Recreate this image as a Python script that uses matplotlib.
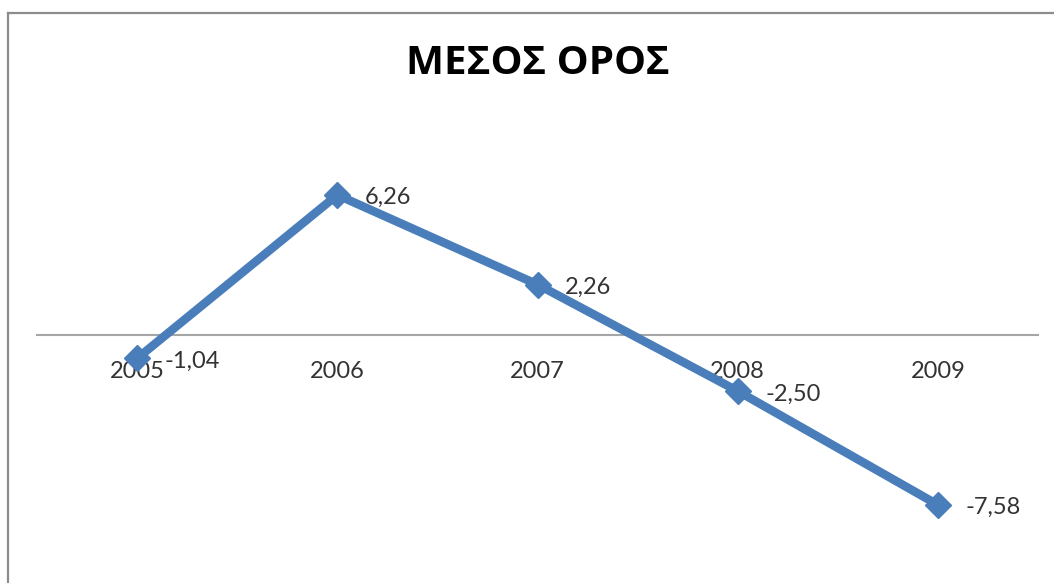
import matplotlib
matplotlib.use("Agg")
import matplotlib.pyplot as plt
from matplotlib.lines import Line2D

years = ["2005", "2006", "2007", "2008", "2009"]
values = [-1.04, 6.26, 2.26, -2.50, -7.58]
title = "ΜΕΣΟΣ ΟΡΟΣ"

BLUE = "#4a7ebb"
W, H = 1054, 583

fig = plt.figure(figsize=(W / 100, H / 100), dpi=100)
fig.patch.set_facecolor("white")

# plot area in pixels: x 37..1038, y(8) at 156, y(-10) at 559
ax = fig.add_axes([37 / W, (H - 559) / H, 1001 / W, (559 - 156) / H])
ax.set_xlim(-0.5, len(years) - 0.5)
ax.set_ylim(-10, 8)
ax.patch.set_alpha(0)

x = list(range(len(years)))
ax.plot(x, values, color=BLUE, lw=6.2, marker="D", ms=13,
        mfc=BLUE, mec=BLUE, solid_capstyle="round", zorder=3)

for xi, v in zip(x, values):
    ax.annotate(f"{v:.2f}".replace(".", ","), (xi, v), xytext=(20, -2),
                textcoords="offset points", ha="left", va="center",
                fontsize=17, family=["Lato", "DejaVu Sans"], color="#333333",
                zorder=4)

for s in ["left", "right", "top"]:
    ax.spines[s].set_visible(False)
ax.spines["bottom"].set_position(("data", 0))
ax.spines["bottom"].set_color("#a6a6a6")
ax.spines["bottom"].set_linewidth(1.5)
ax.set_yticks([])
ax.set_xticks(x)
ax.set_xticklabels(years, family=["Lato", "DejaVu Sans"], fontsize=17,
                   color="#333333")
ax.tick_params(axis="x", length=0, pad=19)
for lbl in ax.get_xticklabels():
    lbl.set_zorder(2)

fig.text(538 / W, 1 - 63 / H, title, ha="center", va="center",
         fontsize=29, fontweight="bold", family=["Open Sans", "DejaVu Sans"],
         color="black")

# chart frame: top and left edges
fig.add_artist(Line2D([8 / W, 1.0], [1 - 12.5 / H, 1 - 12.5 / H],
                      transform=fig.transFigure, color="#8c8c8c", lw=1.6))
fig.add_artist(Line2D([8 / W, 8 / W], [0, 1 - 12.5 / H],
                      transform=fig.transFigure, color="#8c8c8c", lw=1.6))

fig.savefig("out.png", dpi=100, facecolor="white")
